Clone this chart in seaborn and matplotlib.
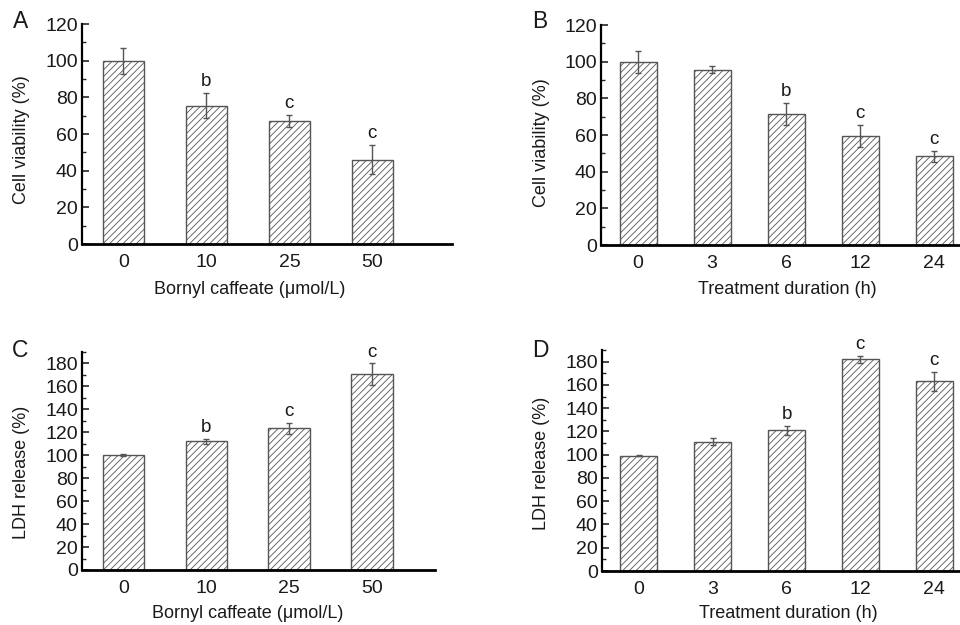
import numpy as np
import pandas as pd
import matplotlib
matplotlib.use("Agg")
import matplotlib.pyplot as plt
from matplotlib.ticker import MultipleLocator
import seaborn as sns

# values
doses = ["0", "10", "25", "50"]
hours = ["0", "3", "6", "12", "24"]

via_dose = [100, 75.5, 67, 46]
via_dose_err = [7, 7, 3.3, 8]
via_dose_sig = ["", "b", "c", "c"]

via_time = [100, 95.6, 71.5, 59.5, 48.5]
via_time_err = [6, 2, 6, 6, 3]
via_time_sig = ["", "", "b", "c", "c"]

ldh_dose = [100, 112, 123.5, 170.5]
ldh_dose_err = [0.8, 2.2, 5, 9.5]
ldh_dose_sig = ["", "b", "c", "c"]

ldh_time = [99, 111, 121, 182, 163]
ldh_time_err = [0.5, 3, 4, 3, 8]
ldh_time_sig = ["", "", "b", "c", "c"]

sns.set_style("ticks")
plt.rcParams["font.family"] = ["Liberation Sans", "DejaVu Sans"]
plt.rcParams["hatch.linewidth"] = 0.6
plt.rcParams["hatch.color"] = "#555555"

edge = "#555555"
txt = "#1a1a1a"

fig = plt.figure(figsize=(9.6, 6.25), dpi=100)


def px_axes(left, right, top, bottom):
    # axes box given in pixel coordinates of the 960x625 figure
    return fig.add_axes([left / 960, 1 - bottom / 625,
                         (right - left) / 960, (bottom - top) / 625])


def panel(ax, cats, vals, errs, sigs, ymax, xmax, ytop_tick):
    df = pd.DataFrame({"cat": cats, "val": vals})
    sns.barplot(data=df, x="cat", y="val", ax=ax, color="white",
                edgecolor=edge, linewidth=1.0, width=0.5, hatch="/////",
                errorbar=None, saturation=1)
    ax.errorbar(np.arange(len(cats)), vals, yerr=errs, fmt="none",
                ecolor=edge, elinewidth=1.0, capsize=2.5, capthick=1.0)
    for i, s in enumerate(sigs):
        if s:
            ax.annotate(s, (i, vals[i] + errs[i]), xytext=(0, 2),
                        textcoords="offset points", ha="center",
                        va="bottom", fontsize=13.5, color=txt)
    ax.set_xlim(-0.5, xmax)
    ax.set_ylim(0, ymax)
    ax.set_yticks(np.arange(0, ytop_tick + 1, 20))
    ax.yaxis.set_minor_locator(MultipleLocator(10))
    ax.tick_params(axis="y", which="major", direction="in", length=5,
                   width=1.2, labelsize=14, labelcolor=txt, pad=3)
    ax.tick_params(axis="y", which="minor", direction="in", length=3,
                   width=1.0)
    ax.tick_params(axis="x", length=0, labelsize=14, labelcolor=txt,
                   pad=7)
    ax.set_xlabel("")
    ax.set_ylabel("")
    sns.despine(ax=ax)
    ax.spines["left"].set_linewidth(1.6)
    ax.spines["bottom"].set_linewidth(2.0)
    ax.spines["left"].set_color("black")
    ax.spines["bottom"].set_color("black")


axA = px_axes(82, 452, 24, 244)
panel(axA, doses, via_dose, via_dose_err, via_dose_sig, 120, 3.96, 120)

axB = px_axes(601, 971, 25, 245)
panel(axB, hours, via_time, via_time_err, via_time_sig, 120, 4.5, 120)

axC = px_axes(82, 435, 352, 570)
panel(axC, doses, ldh_dose, ldh_dose_err, ldh_dose_sig, 190, 3.76, 180)

axD = px_axes(602, 971, 350, 571)
panel(axD, hours, ldh_time, ldh_time_err, ldh_time_sig, 190, 4.5, 180)

# panel letters and axis titles
for lab, x, y in [("A", 21, 22), ("B", 540, 22), ("C", 20, 350), ("D", 540, 350)]:
    fig.text(x / 960, 1 - y / 625, lab, fontsize=16.5, ha="center",
             va="center", color=txt)

for lab, x, y in [("Cell viability (%)", 22, 140),
                  ("Cell viability (%)", 542, 143),
                  ("LDH release (%)", 22, 472),
                  ("LDH release (%)", 542, 463)]:
    fig.text(x / 960, 1 - y / 625, lab, fontsize=13, rotation=90,
             ha="center", va="center", color=txt)

for lab, x, y in [("Bornyl caffeate (μmol/L)", 250, 290),
                  ("Treatment duration (h)", 787, 290),
                  ("Bornyl caffeate (μmol/L)", 248, 613),
                  ("Treatment duration (h)", 788, 613)]:
    fig.text(x / 960, 1 - y / 625, lab, fontsize=13, ha="center",
             va="center", color=txt)

plt.savefig("out.png", dpi=100)
